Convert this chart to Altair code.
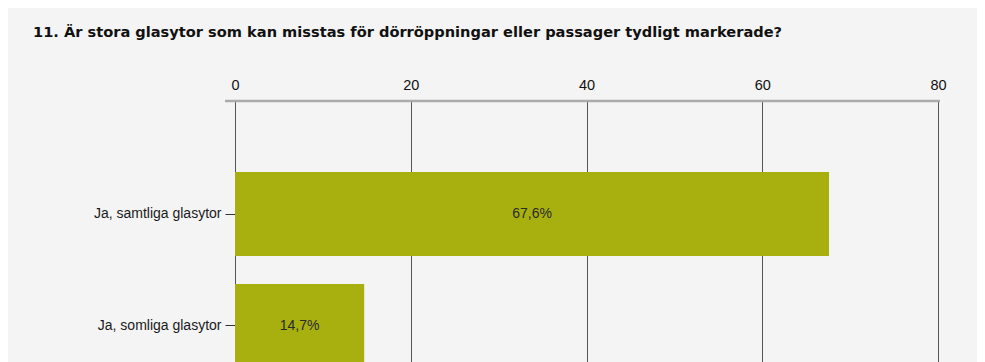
import altair as alt
import pandas as pd

title_text = "11. Är stora glasytor som kan misstas för dörröppningar eller passager tydligt markerade?"
categories = ["Ja, samtliga glasytor", "Ja, somliga glasytor"]
values = [67.6, 14.7]
x_ticks = [0, 20, 40, 60, 80]

df = pd.DataFrame({"cat": categories, "val": values})
df["label"] = [f"{v:.1f}".replace(".", ",") + "%" for v in values]
df["mid"] = df["val"] / 2

W = 703
H = 261

xscale = alt.Scale(domain=[0, 80], nice=False, zero=True)
yscale = alt.Scale(domain=categories, range=[0, 338], paddingInner=0.25, paddingOuter=0.634)

base = alt.Chart(df)

bars = base.mark_bar(color="#a8b010", clip=True).encode(
    x=alt.X("val:Q", scale=xscale,
            axis=alt.Axis(orient="top", values=x_ticks, title=None, grid=True,
                          gridColor="#555555", gridWidth=1, ticks=False, domain=False,
                          labelFont="Liberation Sans", labelFontSize=14.5, labelColor="#111111",
                          labelPadding=9, labelFlush=False)),
    y=alt.Y("cat:N", scale=yscale, sort=categories,
            axis=alt.Axis(title=None, orient="left", domain=False, grid=False, ticks=True,
                          tickSize=10, tickColor="#333333", tickWidth=1,
                          labelFont="Liberation Sans", labelFontSize=14, labelColor="#1a1a1a",
                          labelPadding=4, labelLimit=300)),
)

texts = base.mark_text(font="Liberation Sans", fontSize=14, color="#2a2a2a",
                       align="center", baseline="middle", clip=True).encode(
    x=alt.X("mid:Q", scale=xscale),
    y=alt.Y("cat:N", scale=yscale, sort=categories),
    text="label:N",
)

domain_line = alt.Chart(pd.DataFrame({"d": [0]})).mark_rule(color="#aaaaaa", strokeWidth=2.5).encode(
    x=alt.value(-10), x2=alt.value(W + 2), y=alt.value(0)
)

title = alt.Chart(pd.DataFrame({"t": [title_text]})).mark_text(
    font="DejaVu Sans", fontSize=14.6, fontWeight="bold", color="#111111",
    align="left", baseline="alphabetic").encode(
    x=alt.value(-202), y=alt.value(-64), text="t:N"
)

chart = alt.layer(bars, texts, domain_line, title).properties(
    width=W, height=H,
    autosize=alt.AutoSizeParams(type="none"),
    padding={"left": 227, "top": 93, "right": 39, "bottom": 0},
    background="#f4f4f4",
).configure_view(stroke=None)

chart.save("out.html", embed_options={"renderer": "svg", "actions": False})
